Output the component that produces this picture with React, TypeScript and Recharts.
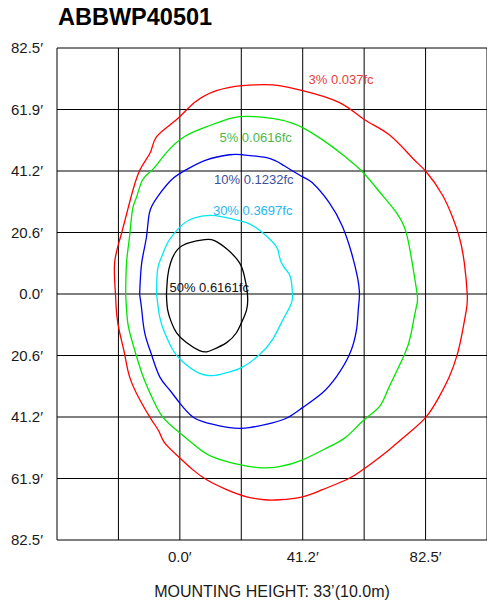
import { CartesianGrid, Line, LineChart, ReferenceDot, XAxis, YAxis } from "recharts";

const X_TICKS = [-41.25, -20.625, 0, 20.625, 41.25, 61.875, 82.5, 103.125];
const X_TICK_LABELS = ["", "", "0.0′", "", "41.2′", "", "82.5′", ""];
const Y_TICKS = [-82.5, -61.875, -41.25, -20.625, 0, 20.625, 41.25, 61.875, 82.5];
const Y_TICK_LABELS = ["82.5′", "61.9′", "41.2′", "20.6′", "0.0′", "20.6′", "41.2′", "61.9′", "82.5′"];

type Pt = [number, number];

// isofootcandle contours, feet from the pole (x along, y across)
const CONTOUR_3: Pt[] = [
  [-21.6, -0.2], [-21.9, 10.5], [-19.9, 19.2], [-16.9, 30.6], [-13.5, 41.4], [-9.8, 47.7],
  [-7.8, 52.8], [-1.1, 58.5], [4.9, 64.2], [12.3, 68.2], [21.0, 69.9], [28.4, 70.2],
  [33.4, 69.9], [41.2, 68.2], [53.6, 64.2], [61.9, 58.5], [70.3, 53.4], [78.0, 45.7],
  [82.7, 41.0], [88.1, 33.3], [91.5, 25.9], [93.8, 19.2], [95.5, 10.5], [96.5, -0.2],
  [96.2, -5.3], [94.8, -13.0], [93.1, -20.4], [90.5, -27.7], [87.1, -34.4], [82.7, -41.2],
  [77.0, -46.5], [70.3, -52.2], [61.9, -58.6], [55.9, -62.3], [47.9, -65.6], [41.2, -68.0],
  [33.4, -69.0], [28.4, -69.0], [22.4, -68.0], [15.7, -65.6], [9.0, -62.3], [4.3, -58.9],
  [-0.1, -54.9], [-5.1, -49.9], [-6.8, -46.5], [-9.5, -42.2], [-13.5, -35.4], [-16.9, -27.7],
  [-18.5, -20.4], [-20.2, -13.0], [-21.2, -6.9], [-21.6, -0.2],
];

const CONTOUR_5: Pt[] = [
  [-18.2, -0.2], [-17.9, 10.5], [-16.9, 19.2], [-15.9, 28.3], [-14.5, 32.6], [-12.5, 38.3],
  [-9.2, 41.7], [-4.5, 47.4], [1.6, 52.8], [9.0, 56.1], [17.7, 59.1], [25.1, 59.5],
  [33.4, 58.5], [41.2, 55.8], [50.2, 50.1], [55.9, 45.7], [61.3, 41.0], [67.0, 34.3],
  [72.7, 27.3], [76.0, 20.6], [78.0, 10.5], [79.7, -0.2], [79.4, -4.3], [77.7, -13.0],
  [75.4, -20.4], [70.3, -31.1], [67.0, -37.8], [61.9, -42.2], [55.9, -47.9], [50.2, -51.2],
  [41.2, -55.6], [33.4, -57.9], [27.7, -58.3], [20.0, -57.2], [11.0, -54.6], [5.6, -51.2],
  [-0.1, -46.5], [-5.8, -41.2], [-9.5, -34.4], [-12.8, -26.4], [-15.9, -16.3], [-17.5, -9.6],
  [-18.2, -0.2],
];

const CONTOUR_10: Pt[] = [
  [-13.5, -0.2], [-12.8, 10.5], [-11.2, 19.2], [-10.2, 27.3], [-7.5, 32.6], [-2.8, 38.3],
  [2.2, 41.7], [9.0, 45.0], [16.7, 46.7], [21.0, 46.7], [29.1, 45.7], [34.4, 43.4],
  [41.2, 39.3], [44.5, 37.3], [50.2, 30.6], [54.6, 22.6], [57.6, 13.9], [59.6, 5.8],
  [60.3, -0.2], [59.9, -5.3], [59.3, -12.0], [56.9, -20.4], [52.6, -27.7], [47.9, -33.1],
  [41.2, -38.1], [36.1, -41.5], [31.1, -43.2], [23.4, -44.8], [16.7, -44.8], [9.0, -43.2],
  [4.3, -41.2], [-0.1, -36.5], [-3.5, -32.1], [-6.8, -27.7], [-9.5, -20.4], [-11.8, -13.0],
  [-12.8, -5.3], [-13.5, -0.2],
];

const CONTOUR_30: Pt[] = [
  [-7.8, -0.2], [-7.5, 8.1], [-6.1, 12.5], [-4.1, 17.2], [-0.8, 21.6], [3.3, 24.9],
  [9.0, 26.3], [14.3, 25.9], [22.4, 23.9], [27.7, 20.6], [32.4, 15.9], [33.4, 12.5],
  [35.1, 8.8], [37.1, 5.8], [37.8, -0.2], [37.5, -2.9], [36.1, -5.9], [34.1, -9.6],
  [31.1, -15.3], [26.7, -20.4], [20.7, -24.7], [15.7, -26.4], [11.0, -27.4], [5.6, -26.1],
  [0.6, -22.4], [-2.4, -18.7], [-5.1, -13.0], [-6.8, -7.6], [-7.8, -0.2],
];

const CONTOUR_50: Pt[] = [
  [-4.5, -0.2], [-4.1, 5.8], [-3.1, 10.5], [-0.8, 14.9], [3.3, 17.2], [8.3, 18.2],
  [11.6, 17.9], [16.0, 14.9], [20.0, 10.5], [21.7, 5.8], [22.7, -0.2], [22.4, -5.3],
  [20.7, -9.6], [19.0, -13.0], [15.7, -16.3], [11.0, -18.7], [9.0, -19.4], [6.6, -19.0],
  [2.2, -16.3], [-1.1, -13.0], [-2.8, -9.6], [-4.1, -5.3], [-4.5, -0.2],
];

const CONTOUR_NAMES = ["3% 0.037fc", "5% 0.0616fc", "10% 0.1232fc", "30% 0.3697fc", "50% 0.6161fc"];
const CONTOURS = [CONTOUR_3, CONTOUR_5, CONTOUR_10, CONTOUR_30, CONTOUR_50];
const LINE_COLORS = ["#ff0000", "#00e600", "#0000f0", "#00eaf2", "#000000"];
const LABEL_COLORS = ["#e8403a", "#4cb84c", "#3d509c", "#2ab4f0", "#111111"];
// where each contour's label starts, in feet
const LABEL_X = [43.2, 13.3, 11.5, 11.1, -3.5];
const LABEL_Y = [71.9, 52.4, 38.5, 28.1, 2.1];

const FONT = "'Liberation Sans', Arial, sans-serif";

export default function App(): JSX.Element {
  const series = CONTOURS.map((pts, i) => ({
    name: CONTOUR_NAMES[i],
    data: pts.map(([x, y]) => ({ x, y })),
    stroke: LINE_COLORS[i],
  }));

  return (
    <div style={{ position: "absolute", left: 0, top: 0, width: 487, height: 601, background: "#fff" }}>
      <div
        style={{
          position: "absolute",
          left: 58,
          top: 6,
          fontFamily: FONT,
          fontWeight: "bold",
          fontSize: 23.5,
          lineHeight: "23px",
          color: "#000",
        }}
      >
        ABBWP40501
      </div>
      <LineChart width={487} height={601} margin={{ top: 48, right: 0, bottom: 0, left: 0 }}>
        <CartesianGrid stroke="#000" strokeWidth={1} />
        <XAxis
          type="number"
          dataKey="x"
          domain={[-41.25, 103.125]}
          ticks={X_TICKS}
          interval={0}
          height={61}
          axisLine={false}
          tickLine={false}
          tickSize={6}
          tickMargin={5}
          tickFormatter={(v: number) => X_TICK_LABELS[X_TICKS.indexOf(v)] ?? ""}
          tick={{ fontSize: 15, fill: "#1a1a1a", fontFamily: FONT }}
          allowDataOverflow
          label={{
            value: "MOUNTING HEIGHT: 33’(10.0m)",
            position: "insideBottom",
            offset: 4,
            fontSize: 16,
            fill: "#1a1a1a",
            fontFamily: FONT,
          }}
        />
        <YAxis
          type="number"
          dataKey="y"
          domain={[-82.5, 82.5]}
          ticks={Y_TICKS}
          interval={0}
          width={57}
          axisLine={false}
          tickLine={false}
          tickSize={6}
          tickMargin={8}
          tickFormatter={(v: number) => Y_TICK_LABELS[Y_TICKS.indexOf(v)] ?? ""}
          tick={{ fontSize: 15, fill: "#1a1a1a", fontFamily: FONT }}
          allowDataOverflow
        />
        {series.map((s) => (
          <Line
            key={s.name}
            data={s.data}
            dataKey="y"
            type="natural"
            stroke={s.stroke}
            strokeWidth={1.3}
            dot={false}
            activeDot={false}
            isAnimationActive={false}
          />
        ))}
        {CONTOUR_NAMES.map((name, i) => (
          <ReferenceDot
            key={name}
            x={LABEL_X[i]}
            y={LABEL_Y[i]}
            r={0}
            shape={(p: { cx?: number; cy?: number }) => (
              <text
                x={p.cx}
                y={p.cy}
                fill={LABEL_COLORS[i]}
                fontSize={13}
                fontFamily={FONT}
                dominantBaseline="central"
              >
                {name}
              </text>
            )}
          />
        ))}
      </LineChart>
    </div>
  );
}
